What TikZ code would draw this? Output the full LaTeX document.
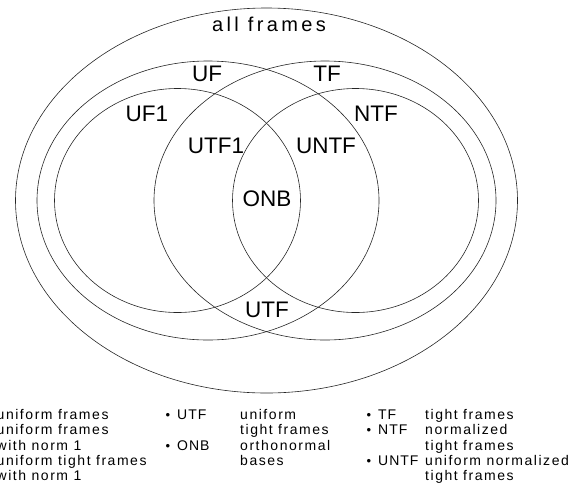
\documentclass[tikz,border=0pt]{standalone}
\usepackage{fontspec}
\setmainfont{Liberation Sans}
\newfontfamily\lgfont[LetterSpace=11]{Liberation Sans}
\newfontfamily\lgtagfont[LetterSpace=7]{Liberation Sans}
\newfontfamily\allfont[LetterSpace=17]{Liberation Sans}
\begin{document}
\begin{tikzpicture}[x=1pt,y=-1pt]
\useasboundingbox (0,0) rectangle (578,483);
\tikzset{
  setline/.style={line width=0.6pt, draw=black!85},
  biglabel/.style={anchor=base, inner sep=0pt, font=\fontsize{22.5}{27}\selectfont},
  lg/.style={anchor=base west, inner sep=0pt, font=\lgfont\fontsize{14}{15.3}\selectfont},
  lgtag/.style={anchor=base west, inner sep=0pt, font=\lgtagfont\fontsize{14}{15.3}\selectfont},
  lgbullet/.style={anchor=base, inner sep=0pt, font=\fontsize{13}{15.3}\selectfont},
}
% sets
\draw[setline] (266.5,200.5) ellipse [x radius=251pt, y radius=192.5pt];
\draw[setline] (208,200.5) ellipse [x radius=171pt, y radius=139.5pt];
\draw[setline] (325,200.5) ellipse [x radius=171pt, y radius=139.5pt];
\draw[setline] (177.5,200.5) ellipse [x radius=123pt, y radius=112pt];
\draw[setline] (355.5,200.5) ellipse [x radius=123pt, y radius=112pt];
% labels
\node[anchor=base, inner sep=0pt, font=\allfont\fontsize{20}{24}\selectfont] (all) at (269,31.5) {all frames};
\node[biglabel] (uf) at (207,81) {UF};
\node[biglabel] (tf) at (327,81) {TF};
\node[biglabel] (uf1) at (147,121) {UF1};
\node[biglabel] (ntf) at (376,121) {NTF};
\node[biglabel] (utf1) at (216,153) {UTF1};
\node[biglabel] (untf) at (326,153) {UNTF};
\node[biglabel] (onb) at (267,206) {ONB};
\node[biglabel] (utf) at (267,317) {UTF};
% legend column 1
\node[lg] (a1) at (-3.5,419.5) {uniform frames};
\node[lg] (a2) at (-3.5,434.8) {uniform frames};
\node[lg] (a3) at (-3.5,450.1) {with norm 1};
\node[lg] (a4) at (-3.5,465.4) {uniform tight frames};
\node[lg] (a5) at (-3.5,480.7) {with norm 1};
% legend column 2
\node[lgbullet] (b1) at (168,419.5) {•};
\node[lgtag] (bl1) at (177,419.5) {UTF};
\node[lgbullet] (b3) at (168,450.1) {•};
\node[lgtag] (bl3) at (177,450.1) {ONB};
\node[lg] (c1) at (240,419.5) {uniform};
\node[lg] (c2) at (240,434.8) {tight frames};
\node[lg] (c3) at (240,450.1) {orthonormal};
\node[lg] (c4) at (240,465.4) {bases};
% legend column 3
\node[lgbullet] (d1) at (369,419.5) {•};
\node[lgtag] (dl1) at (378,419.5) {TF};
\node[lgbullet] (d2) at (369,434.8) {•};
\node[lgtag] (dl2) at (378,434.8) {NTF};
\node[lgbullet] (d4) at (369,465.4) {•};
\node[lgtag] (dl4) at (378,465.4) {UNTF};
\node[lg] (e1) at (425,419.5) {tight frames};
\node[lg] (e2) at (425,434.8) {normalized};
\node[lg] (e3) at (425,450.1) {tight frames};
\node[lg] (e4) at (425,465.4) {uniform normalized};
\node[lg] (e5) at (425,480.7) {tight frames};
\end{tikzpicture}
\end{document}
